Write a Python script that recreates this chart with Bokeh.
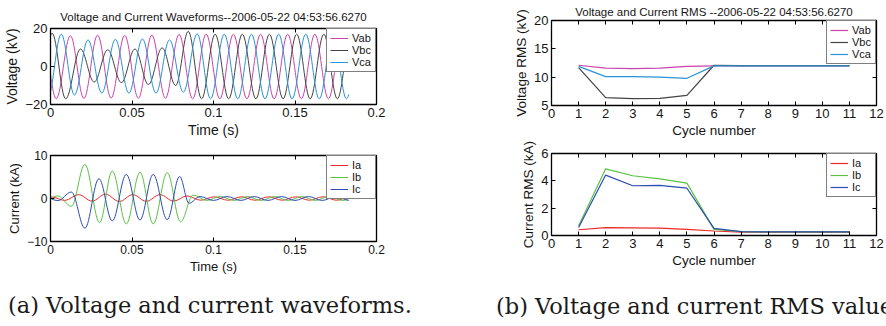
import numpy as np
from bokeh.plotting import figure
from bokeh.models import (Range1d, FixedTicker, LinearAxis, Legend, LegendItem,
                          ColumnDataSource, Div)
from bokeh.layouts import row, column
from bokeh.embed import file_html
from bokeh.resources import INLINE

# ---------------- data: voltage waveforms (extrema) ----------------
END_T = 0.1830  # last sample time (s)

VAB_T = [-0.0048, 0.0035, 0.0122, 0.0205, 0.0289, 0.0372, 0.0455, 0.0539, 0.0622, 0.0705,
         0.0789, 0.0872, 0.0955, 0.1039, 0.1122, 0.1205, 0.1289, 0.1372, 0.1455, 0.1539,
         0.1622, 0.1705, 0.1789, 0.1872]
VAB_V = [16.9, -16.9, 16.2, -16.8, 16.5, -16.6, 16.4, -16.7, 16.5, -16.7,
         16.9, -17.0, 17.0, -17.0, 17.0, -17.0, 17.0, -17.0, 17.0, -17.0,
         17.0, -17.0, 17.0, -17.0]

VBC_T = [-0.0073, 0.0010, 0.0093, 0.0184, 0.0268, 0.0351, 0.0435, 0.0518, 0.0601, 0.0685,
         0.0768, 0.0845, 0.0927, 0.1010, 0.1093, 0.1177, 0.1260, 0.1343, 0.1427, 0.1510,
         0.1593, 0.1677, 0.1760, 0.1843]
VBC_V = [-17.0, 17.5, -17.0, 9.2, -8.2, 8.8, -8.5, 9.2, -9.5, 9.8,
         -10.0, 18.5, -17.0, 17.0, -17.0, 17.0, -17.0, 17.0, -17.0, 17.0,
         -17.0, 17.0, -17.0, 17.0]

VCA_T = [-0.0017, 0.0066, 0.0147, 0.0230, 0.0315, 0.0398, 0.0481, 0.0564, 0.0647, 0.0730,
         0.0815, 0.0900, 0.0982, 0.1066, 0.1149, 0.1233, 0.1316, 0.1400, 0.1482, 0.1566,
         0.1649, 0.1733, 0.1816, 0.1900]
VCA_V = [-17.0, 17.0, -15.0, 14.0, -14.0, 14.3, -14.0, 14.5, -14.0, 14.0,
         -13.5, 17.2, -17.0, 17.0, -17.0, 17.0, -17.0, 17.0, -17.0, 17.0,
         -17.0, 17.0, -17.0, 17.0]

# ---------------- data: current waveforms ----------------
IA_T = [-0.0078, 0.0005, 0.0088, 0.0172, 0.0255, 0.0338, 0.0422, 0.0505, 0.0588, 0.0672,
        0.0755, 0.0838, 0.0922, 0.1005, 0.1088, 0.1172, 0.1255, 0.1338, 0.1422, 0.1505,
        0.1588, 0.1672, 0.1755, 0.1838]
IA_V = [-0.4, 0.35, -0.45, 0.9, -0.6, 1.0, -0.7, 0.9, -0.65, 0.9,
        -0.6, 0.6, -0.4, 0.4, -0.4, 0.4, -0.4, 0.4, -0.4, 0.4,
        -0.4, 0.4, -0.4, 0.4]

IB_T = [-0.0038, 0.0045, 0.0128, 0.0211, 0.0301, 0.0379, 0.0465, 0.0549, 0.0630, 0.0716,
        0.0798, 0.0875, 0.0958, 0.1042, 0.1125, 0.1208, 0.1292, 0.1375, 0.1458, 0.1542,
        0.1625, 0.1708, 0.1792, 0.1875]
IB_V = [-0.4, 0.6, -1.8, 7.9, -5.6, 6.4, -5.9, 6.1, -5.9, 6.0,
        -5.4, 0.8, -0.45, 0.45, -0.45, 0.45, -0.45, 0.45, -0.45, 0.45,
        -0.45, 0.45, -0.45, 0.45]

IC_T = [-0.0038, 0.0045, 0.0128, 0.0211, 0.0297, 0.0379, 0.0465, 0.0549, 0.0630, 0.0716,
        0.0792, 0.0850, 0.0917, 0.1000, 0.1083, 0.1167, 0.1250, 0.1333, 0.1417, 0.1500,
        0.1583, 0.1667, 0.1750, 0.1833, 0.1917]
IC_V = [0.4, -0.5, 1.5, -6.9, 4.6, -5.2, 5.6, -5.0, 5.6, -4.9,
        5.1, -1.1, 0.45, -0.45, 0.45, -0.45, 0.45, -0.45, 0.45, -0.45,
        0.45, -0.45, 0.45, -0.45, 0.45]

# ---------------- data: RMS per cycle ----------------
CYCLES = [1, 2, 3, 4, 5, 6, 7, 8, 9, 10, 11]
VAB_RMS = [12.1, 11.6, 11.5, 11.6, 11.9, 12.0, 12.0, 12.0, 12.0, 12.0, 12.0]
VBC_RMS = [11.7, 6.4, 6.2, 6.25, 6.8, 12.1, 12.05, 12.05, 12.05, 12.05, 12.05]
VCA_RMS = [11.9, 10.1, 10.1, 10.0, 9.8, 12.0, 12.0, 12.0, 12.0, 12.0, 12.0]
IA_RMS = [0.42, 0.58, 0.56, 0.54, 0.45, 0.33, 0.25, 0.25, 0.25, 0.25, 0.25]
IB_RMS = [0.70, 4.88, 4.37, 4.14, 3.83, 0.45, 0.28, 0.27, 0.27, 0.27, 0.27]
IC_RMS = [0.58, 4.42, 3.64, 3.67, 3.46, 0.52, 0.28, 0.27, 0.27, 0.27, 0.27]

# ---------------- ticks and texts ----------------
T_TICKS = [0, 0.05, 0.1, 0.15, 0.2]
T_TICK_LABELS = ["0", "0.05", "0.1", "0.15", "0.2"]
V_TICKS = [-20, 0, 20]
I_TICKS = [-10, 0, 10]
CYC_TICKS = [0, 1, 2, 3, 4, 5, 6, 7, 8, 9, 10, 11, 12]
VRMS_TICKS = [5, 10, 15, 20]
IRMS_TICKS = [0, 2, 4, 6]
TITLE_A = "Voltage and Current Waveforms--2006-05-22 04:53:56.6270"
TITLE_B = "Voltage and Current RMS --2006-05-22 04:53:56.6270"
CAPTION_A = "(a) Voltage and current waveforms."
CAPTION_B = "(b) Voltage and current RMS values."
V_NAMES = ["Vab", "Vbc", "Vca"]
I_NAMES = ["Ia", "Ib", "Ic"]

V_COLORS = ["#cc44aa", "#444444", "#2893d6"]
I_COLORS = ["#ee2a2a", "#5cc043", "#2c4cb4"]

SANS = "Liberation Sans"
TXT = "#151515"
K = 0.3634


def bezier_source(T, V, end):
    d = dict(x0=[], y0=[], x1=[], y1=[], cx0=[], cy0=[], cx1=[], cy1=[])
    for i in range(len(T) - 1):
        t0, t1, v0, v1 = T[i], T[i + 1], V[i], V[i + 1]
        if t0 >= end:
            break
        dt = t1 - t0
        P0 = np.array([t0, v0]); P1 = np.array([t0 + K * dt, v0])
        P2 = np.array([t1 - K * dt, v1]); P3 = np.array([t1, v1])
        if t1 > end:
            lo, hi = 0.0, 1.0
            for _ in range(60):
                s = (lo + hi) / 2
                xs = ((1 - s) ** 3 * P0[0] + 3 * (1 - s) ** 2 * s * P1[0]
                      + 3 * (1 - s) * s ** 2 * P2[0] + s ** 3 * P3[0])
                if xs < end:
                    lo = s
                else:
                    hi = s
            s = lo
            P01 = P0 + (P1 - P0) * s; P12 = P1 + (P2 - P1) * s; P23 = P2 + (P3 - P2) * s
            P012 = P01 + (P12 - P01) * s; P123 = P12 + (P23 - P12) * s
            P0123 = P012 + (P123 - P012) * s
            P1, P2, P3 = P01, P012, P0123
        d["x0"].append(P0[0]); d["y0"].append(P0[1])
        d["cx0"].append(P1[0]); d["cy0"].append(P1[1])
        d["cx1"].append(P2[0]); d["cy1"].append(P2[1])
        d["x1"].append(P3[0]); d["y1"].append(P3[1])
    return ColumnDataSource(d)


def base_fig(w, h, xr, yr, borders, xticks, yticks, xlabel, ylabel,
             tick_fs, label_fs, xlabels=None, title=None, title_standoff=4,
             title_fs="11.5px"):
    l, r, t, b = borders
    p = figure(width=w, height=h, x_range=Range1d(*xr), y_range=Range1d(*yr),
               output_backend="svg", toolbar_location=None,
               min_border_left=l, min_border_right=r, min_border_top=t,
               min_border_bottom=b)
    p.xgrid.visible = False
    p.ygrid.visible = False
    p.outline_line_color = "black"
    p.outline_line_width = 1.3
    for ax, ticks in ((p.xaxis[0], xticks), (p.yaxis[0], yticks)):
        ax.ticker = FixedTicker(ticks=ticks)
        ax.major_tick_in = 4
        ax.major_tick_out = 0
        ax.minor_tick_in = 0
        ax.minor_tick_out = 0
        ax.axis_line_color = "black"
        ax.major_tick_line_color = "black"
        ax.major_label_text_font = SANS
        ax.major_label_text_font_size = tick_fs
        ax.major_label_text_color = TXT
        ax.axis_label_text_font = SANS
        ax.axis_label_text_font_size = label_fs
        ax.axis_label_text_font_style = "normal"
        ax.axis_label_text_color = TXT
        ax.major_label_standoff = 3
        ax.axis_label_standoff = 2
    if xlabels is not None:
        p.xaxis[0].major_label_overrides = {tk: lb for tk, lb in zip(xticks, xlabels)}
    p.xaxis[0].axis_label = xlabel
    p.yaxis[0].axis_label = ylabel
    for loc, ticks in (("above", xticks), ("right", yticks)):
        ax = LinearAxis(ticker=FixedTicker(ticks=ticks), major_tick_in=4, major_tick_out=0,
                        minor_tick_in=0, minor_tick_out=0, major_label_standoff=0,
                        major_label_text_font_size="1px", major_label_text_color=None,
                        axis_line_color="black")
        p.add_layout(ax, loc)
    if title:
        p.title.text = title
        p.title.align = "center"
        p.title.text_font = SANS
        p.title.text_font_size = title_fs
        p.title.text_font_style = "normal"
        p.title.text_color = TXT
        p.title.standoff = title_standoff
    return p


def add_legend(p, renderers, names):
    items = [LegendItem(label=n, renderers=[r]) for n, r in zip(names, renderers)]
    lg = Legend(items=items, location="top_right", margin=0, padding=3, spacing=0,
                label_height=12, glyph_height=12, glyph_width=18, label_standoff=4,
                border_line_color="black", border_line_width=1.5,
                label_text_font=SANS, label_text_font_size="11px",
                label_text_color=TXT, background_fill_alpha=1.0)
    p.add_layout(lg)


# ---- (a) top: voltage waveforms ----
pa1 = base_fig(443, 140, (0, 0.2), (-20, 20), (50, 67, 28, 33), T_TICKS, V_TICKS,
               "Time (s)", "Voltage (kV)", "13px", "14px", xlabels=T_TICK_LABELS,
               title=TITLE_A, title_standoff=11)
rv = []
for (T, V), c in zip(((VAB_T, VAB_V), (VBC_T, VBC_V), (VCA_T, VCA_V)), V_COLORS):
    rv.append(pa1.bezier(x0="x0", y0="y0", x1="x1", y1="y1", cx0="cx0", cy0="cy0",
                         cx1="cx1", cy1="cy1", source=bezier_source(T, V, END_T),
                         line_color=c, line_width=1.0))
add_legend(pa1, rv, V_NAMES)

# ---- (a) bottom: current waveforms ----
pa2 = base_fig(443, 136, (0, 0.2), (-10, 10), (50, 67, 15, 30), T_TICKS, I_TICKS,
               "Time (s)", "Current (kA)", "12px", "13px", xlabels=T_TICK_LABELS)
ri = []
for (T, V), c in zip(((IA_T, IA_V), (IB_T, IB_V), (IC_T, IC_V)), I_COLORS):
    ri.append(pa2.bezier(x0="x0", y0="y0", x1="x1", y1="y1", cx0="cx0", cy0="cy0",
                         cx1="cx1", cy1="cy1", source=bezier_source(T, V, END_T),
                         line_color=c, line_width=1.0))
add_legend(pa2, ri, I_NAMES)

# ---- (b) top: voltage RMS ----
pb1 = base_fig(443, 140, (0, 12), (5, 20), (108, 10, 20, 33), CYC_TICKS, VRMS_TICKS,
               "Cycle number", "Voltage RMS (kV)", "13px", "13.5px",
               title=TITLE_B, title_standoff=6, title_fs="11.5px")
rvr = [pb1.line(CYCLES, s, line_color=c, line_width=1.2)
       for s, c in zip((VAB_RMS, VBC_RMS, VCA_RMS), V_COLORS)]
add_legend(pb1, rvr, V_NAMES)

# ---- (b) bottom: current RMS ----
pb2 = base_fig(443, 130, (0, 12), (0, 6), (108, 10, 13, 32), CYC_TICKS, IRMS_TICKS,
               "Cycle number", "Current RMS (kA)", "13px", "13.5px")
rir = [pb2.line(CYCLES, s, line_color=c, line_width=1.2)
       for s, c in zip((IA_RMS, IB_RMS, IC_RMS), I_COLORS)]
add_legend(pb2, rir, I_NAMES)


def caption(w, h, pad_left, pad_top, text):
    html = (f'<div style="margin-left:{pad_left}px;margin-top:{pad_top}px;'
            f'font-family:\'DejaVu Serif\';font-size:22.5px;line-height:24px;'
            f'color:#1a1a1a;white-space:nowrap;">{text}</div>')
    return Div(text=html, width=w, height=h,
               styles={"overflow": "hidden", "margin": "0", "padding": "0"})


cap_a = caption(443, 50, 8, 17, CAPTION_A)
cap_b = caption(443, 56, 53, 24, CAPTION_B)

layout = row(column(pa1, pa2, cap_a), column(pb1, pb2, cap_b))
open("out.html", "w").write(file_html(layout, INLINE))
